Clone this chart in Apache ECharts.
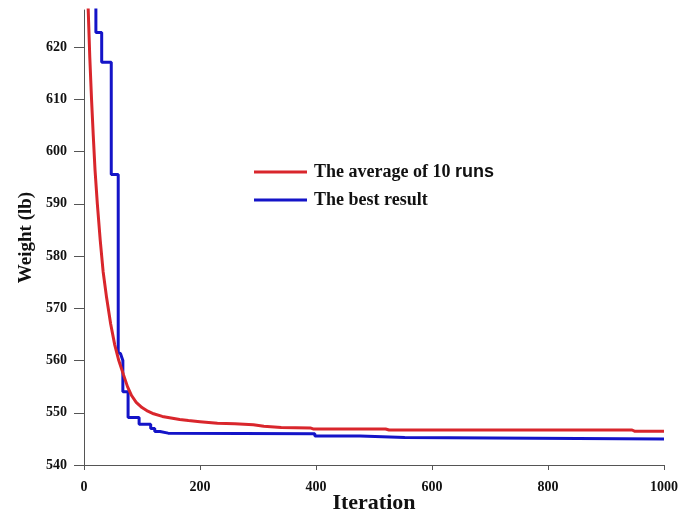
<!DOCTYPE html>
<html>
<head>
<meta charset="utf-8">
<script src="https://cdn.jsdelivr.net/npm/echarts@6/dist/echarts.min.js"></script>
<style>html,body{margin:0;padding:0;background:#fff}#c{width:679px;height:514px}</style>
</head>
<body>
<div id="c"></div>
<script>
// Data: [iteration, weight (lb)]
const avgName = 'The average of 10 runs';
const bestName = 'The best result';
const avgRuns = [
  [1, 650], [4, 638], [7, 628], [10, 618], [13, 610], [16, 603], [19, 596.5],
  [23, 590], [28, 583], [33, 577], [39, 572], [46, 567], [53, 563], [60, 560],
  [68, 557.3], [75, 555], [82, 553.3], [90, 552], [100, 551], [110, 550.3],
  [120, 549.8], [135, 549.3], [150, 549], [165, 548.7], [180, 548.5], [200, 548.3],
  [230, 548.0], [260, 547.9], [292, 547.7], [310, 547.4], [340, 547.2], [390, 547.1],
  [395, 546.9], [520, 546.9], [526, 546.7], [945, 546.7], [950, 546.45], [1000, 546.45]
];
const bestResult = [
  [20.5, 640], [20.5, 622.8], [30.5, 622.8], [30.5, 617.1], [47, 617.1], [47, 595.6],
  [59, 595.6], [59, 561.5], [63, 561.3], [67, 560], [67, 554], [76, 554], [76, 549.1],
  [95, 549.1], [95, 547.8], [115, 547.8], [115, 547.0], [122, 547.0], [122, 546.4],
  [131, 546.4], [131, 546.1], [145, 546.1], [145, 546.0], [398, 546.0], [398, 545.55],
  [476, 545.55], [476, 545.25], [553, 545.25], [553, 545.0], [1000, 545.0]
];
const yTicks = [540, 550, 560, 570, 580, 590, 600, 610, 620];
const xTicks = [0, 200, 400, 600, 800, 1000];

const serif = '"Liberation Serif", "Times New Roman", serif';
const axisColor = '#555';
const chart = echarts.init(document.getElementById('c'), null, {renderer: 'canvas'});
chart.setOption({
  animation: false,
  backgroundColor: '#fff',
  grid: {left: 84, right: 15, top: 10, bottom: 49, containLabel: false, outerBoundsMode: 'none'},
  legend: {
    data: [avgName, bestName],
    orient: 'vertical',
    left: 254, top: 163, padding: 0,
    icon: 'rect', itemWidth: 53, itemHeight: 3, itemGap: 10,
    textStyle: {
      fontFamily: serif, fontWeight: 'bold', fontSize: 18, color: '#111', padding: [0, 0, 0, 2],
      rich: {
        a: {fontFamily: serif, fontWeight: 'bold', fontSize: 18, color: '#111'},
        b: {fontFamily: '"Liberation Sans", Arial, sans-serif', fontWeight: 'bold', fontSize: 18, color: '#111'}
      }
    },
    formatter: function (n) {
      return n === avgName ? '{a|The average of 10 }{b|runs}' : '{a|' + n + '}';
    }
  },
  xAxis: {
    type: 'value', min: 0, max: 1000, interval: 200,
    name: 'Iteration', nameLocation: 'middle', nameGap: 27, nameMoveOverlap: false,
    nameTextStyle: {fontFamily: serif, fontWeight: 'bold', fontSize: 22, color: '#111'},
    axisLine: {show: true, lineStyle: {color: axisColor, width: 1}},
    axisTick: {show: true, length: 5, lineStyle: {color: axisColor}, customValues: xTicks},
    axisLabel: {fontFamily: serif, fontWeight: 'bold', fontSize: 14, color: '#111', margin: 15,
      customValues: xTicks, formatter: function (v) { return String(v); }},
    splitLine: {show: false}
  },
  yAxis: {
    type: 'value', min: 540, max: 627.1, interval: 10,
    name: 'Weight (lb)', nameLocation: 'middle', nameGap: 48, nameRotate: 90, nameMoveOverlap: false,
    nameTextStyle: {fontFamily: serif, fontWeight: 'bold', fontSize: 19, color: '#111'},
    axisLine: {show: true, lineStyle: {color: axisColor, width: 1}},
    axisTick: {show: true, length: 10, lineStyle: {color: axisColor}, customValues: yTicks},
    axisLabel: {fontFamily: serif, fontWeight: 'bold', fontSize: 14, color: '#111', margin: 17,
      customValues: yTicks, formatter: function (v) { return String(v); }},
    splitLine: {show: false}
  },
  series: [
    {
      name: avgName, type: 'line', data: avgRuns, symbol: 'none', clip: true,
      lineStyle: {color: '#d9262c', width: 3}, itemStyle: {color: '#d9262c'}, z: 3
    },
    {
      name: bestName, type: 'line', data: bestResult, symbol: 'none', clip: true,
      lineStyle: {color: '#1414c8', width: 3}, itemStyle: {color: '#1414c8'}, z: 2
    }
  ]
});
</script>
</body>
</html>
